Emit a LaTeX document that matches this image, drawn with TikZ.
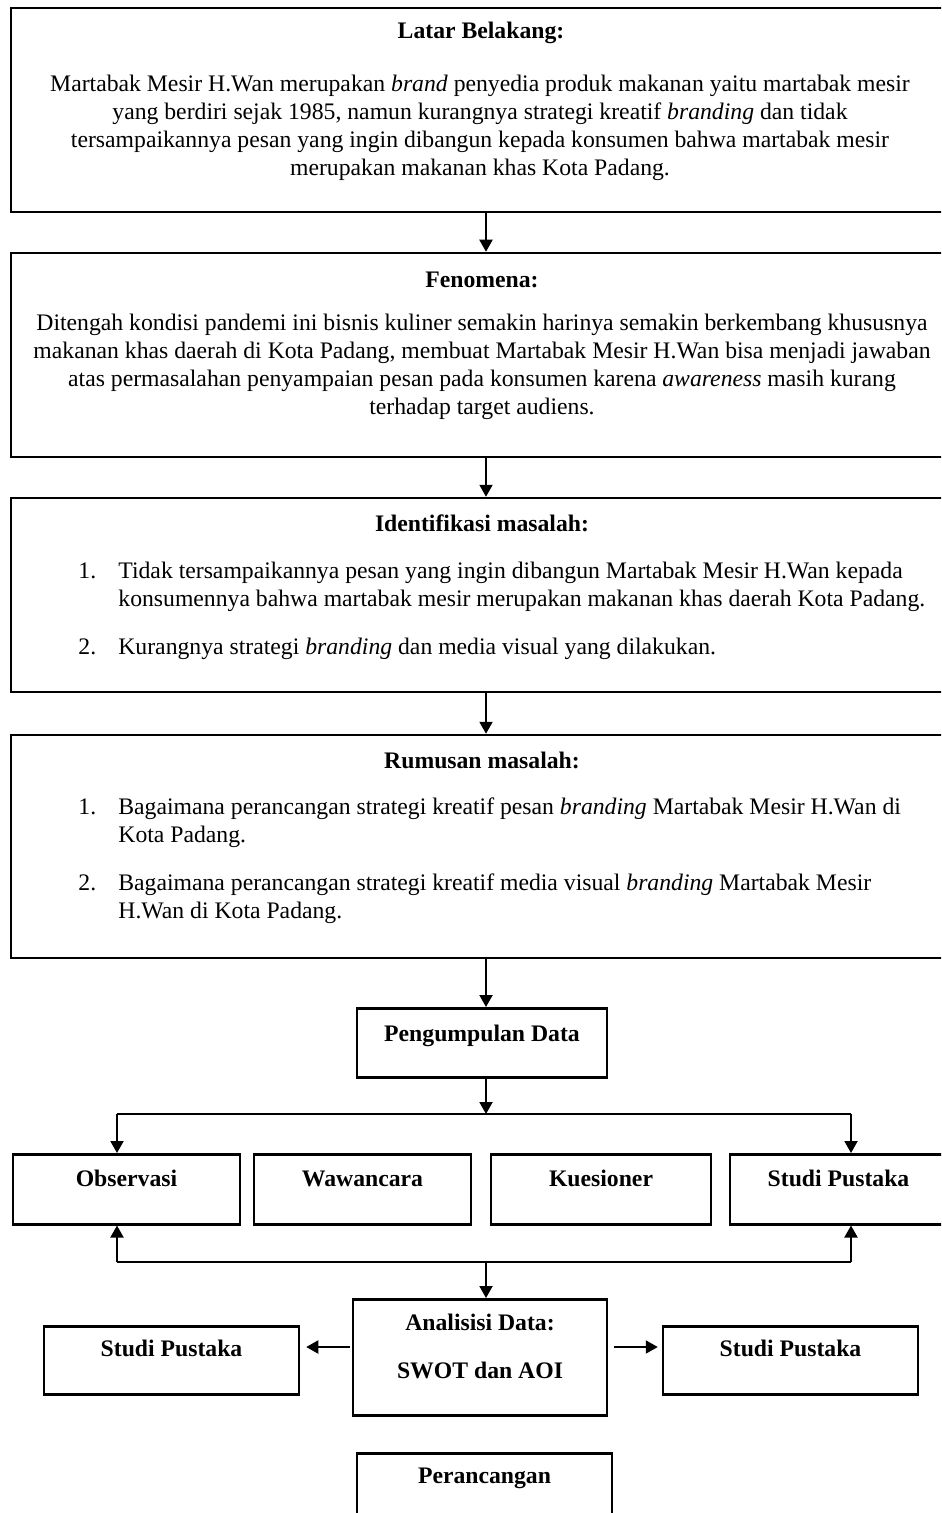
\documentclass[tikz,border=0pt]{standalone}
\usepackage{fontspec}
\setmainfont{Liberation Serif}
\usetikzlibrary{arrows.meta, positioning, calc}

\newcommand{\txtsize}{\fontsize{11.85pt}{14pt}\selectfont}
\tikzset{
  txt/.style={font=\txtsize, inner sep=0pt},
  head/.style={font=\txtsize\bfseries, inner sep=0pt},
  bigbox/.style={draw, line width=1.25pt, minimum width=475pt, inner sep=0pt},
  smallbox/.style={draw, line width=1.25pt, inner sep=0pt, anchor=north, font=\txtsize\bfseries},
  flow/.style={line width=1pt, -{Triangle[length=6pt, width=6.5pt]}},
  link/.style={line width=1pt},
}

\begin{document}
\begin{tikzpicture}[x=0.5pt, y=-0.5pt]
    \useasboundingbox (0,0) rectangle (941,1513);
    \clip (0,0) rectangle (941,1513);

    % Latar Belakang
    \node[bigbox, minimum height=102pt] (latar) at (486,110) {};
    \node[head] (latarhead) at (481,33) {Latar Belakang:};
    \node[txt, align=center] (latartext) at (480,128) {Martabak Mesir H.Wan merupakan \textit{brand} penyedia produk makanan yaitu martabak mesir\\
        yang berdiri sejak 1985, namun kurangnya strategi kreatif \textit{branding} dan tidak\\
        tersampaikannya pesan yang ingin dibangun kepada konsumen bahwa martabak mesir\\
        merupakan makanan khas Kota Padang.};

    % Fenomena
    \node[bigbox, minimum height=102pt] (fenomena) at (486,355) {};
    \node[head] (fenomenahead) at (482,280) {Fenomena:};
    \node[txt, align=center] (fenomenatext) at (482,367) {Ditengah kondisi pandemi ini bisnis kuliner semakin harinya semakin berkembang khususnya\\
        makanan khas daerah di Kota Padang, membuat Martabak Mesir H.Wan bisa menjadi jawaban\\
        atas permasalahan penyampaian pesan pada konsumen karena \textit{awareness} masih kurang\\
        terhadap target audiens.};

    % Identifikasi masalah
    \node[bigbox, minimum height=97pt] (identifikasi) at (486,595) {};
    \node[head] (identhead) at (482,523) {Identifikasi masalah:};
    \node[txt, align=left, anchor=west] (identlist) at (78,611) {\makebox[20pt][l]{1.}Tidak tersampaikannya pesan yang ingin dibangun Martabak Mesir H.Wan kepada\\
        \hspace*{20pt}konsumennya bahwa martabak mesir merupakan makanan khas daerah Kota Padang.\\[10pt]
        \makebox[20pt][l]{2.}Kurangnya strategi \textit{branding} dan media visual yang dilakukan.};

    % Rumusan masalah
    \node[bigbox, minimum height=111.5pt] (rumusan) at (486,846.5) {};
    \node[head] (rumusanhead) at (482,760) {Rumusan masalah:};
    \node[txt, align=left, anchor=west] (rumusanlist) at (78,861) {\makebox[20pt][l]{1.}Bagaimana perancangan strategi kreatif pesan \textit{branding} Martabak Mesir H.Wan di\\
        \hspace*{20pt}Kota Padang.\\[10pt]
        \makebox[20pt][l]{2.}Bagaimana perancangan strategi kreatif media visual \textit{branding} Martabak Mesir\\
        \hspace*{20pt}H.Wan di Kota Padang.};

    % Pengumpulan data
    \node[smallbox, minimum width=125pt, text height=16.5pt, text depth=18pt] (kumpul) at (482,1007) {Pengumpulan Data};

    % Metode
    \node[smallbox, minimum width=113.5pt, text height=16pt, text depth=19pt] (observasi) at (126.5,1153) {Observasi};
    \node[smallbox, minimum width=108.5pt, text height=16pt, text depth=19pt] (wawancara) at (362.5,1153) {Wawancara};
    \node[smallbox, minimum width=110pt, text height=16pt, text depth=19pt] (kuesioner) at (601,1153) {Kuesioner};
    \node[smallbox, minimum width=108.5pt, text height=16pt, text depth=19pt] (pustaka) at (838.5,1153) {Studi Pustaka};

    % Analisis
    \node[smallbox, align=center, minimum width=127pt, text height=39.5pt, text depth=18.5pt] (analisis) at (480,1298) {Analisisi Data:\\[10pt]SWOT dan AOI};
    \node[smallbox, minimum width=127.5pt, text height=15pt, text depth=19pt] (pustakakiri) at (171.5,1325) {Studi Pustaka};
    \node[smallbox, minimum width=127.5pt, text height=15pt, text depth=19pt] (pustakakanan) at (790.5,1325) {Studi Pustaka};

    % Perancangan
    \node[smallbox, minimum width=127.5pt, text height=15pt, text depth=24pt] (perancangan) at (484.5,1452) {Perancangan};

    % Titik bantu
    \coordinate (pisah) at (486,1114);
    \coordinate (pisahkiri) at (117,1114);
    \coordinate (pisahkanan) at (851,1114);
    \coordinate (gabung) at (486,1262);
    \coordinate (gabungkiri) at (117,1262);
    \coordinate (gabungkanan) at (851,1262);
    \coordinate (panah) at (0,1347);

    % Alur utama
    \draw[flow] (latar) -- (fenomena);
    \draw[flow] (fenomena) -- (identifikasi);
    \draw[flow] (identifikasi) -- (rumusan);
    \draw[flow] (rumusan.south) -- (rumusan.south |- kumpul.north);
    \draw[flow] (pisah |- kumpul.south) -- (pisah);

    % Cabang ke metode
    \draw[link] (pisahkiri) -- (pisahkanan);
    \draw[flow] (pisahkiri) -- (pisahkiri |- observasi.north);
    \draw[flow] (pisahkanan) -- (pisahkanan |- pustaka.north);

    % Kembali ke analisis
    \draw[link] (gabungkiri) -- (gabungkanan);
    \draw[flow] (gabungkiri) -- (gabungkiri |- observasi.south);
    \draw[flow] (gabungkanan) -- (gabungkanan |- pustaka.south);
    \draw[flow] (gabung) -- (gabung |- analisis.north);

    % Analisis ke studi pustaka
    \draw[flow, shorten <=1pt, shorten >=3pt] (analisis.west |- panah) -- (pustakakiri.east |- panah);
    \draw[flow, shorten <=3pt, shorten >=2pt] (analisis.east |- panah) -- (pustakakanan.west |- panah);
\end{tikzpicture}
\end{document}
